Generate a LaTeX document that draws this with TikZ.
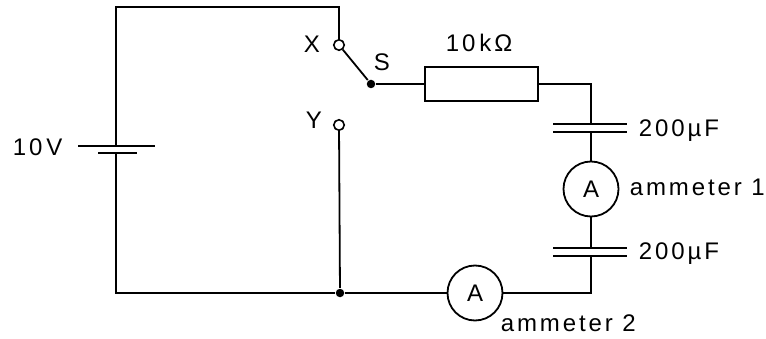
\documentclass[tikz,border=0pt]{standalone}
\usepackage{fontspec}
\setmainfont[LetterSpace=12]{Liberation Sans}
\begin{document}
\begin{tikzpicture}[x=1pt,y=-1pt, line width=1.8pt,
  lbl/.style={font=\fontsize{24}{28}\selectfont, inner sep=0pt, anchor=base west},
  term/.style={circle, draw, minimum size=10.5pt, inner sep=0pt, line width=1.6pt, fill=white},
  meter/.style={circle, draw, minimum size=55pt, inner sep=0pt, font=\fontsize{24}{28}\selectfont},
  dot/.style={circle, fill, minimum size=8.5pt, inner sep=0pt},
  resistor/.style={draw, rectangle, minimum width=113pt, minimum height=34pt, inner sep=0pt}]
\useasboundingbox (0,0) rectangle (766,339);
% components
\node[term] (X) at (339,45) {};
\node[term] (Y) at (339,125) {};
\node[dot] (S) at (371,84) {};
\node[resistor] (R) at (481.5,84) {};
\node[meter] (A1) at (591,189) {A};
\node[meter] (A2) at (475,293) {A};
\node[dot] (J) at (340,293) {};
\coordinate (TL) at (116,7);
\coordinate (TR) at (339,7);
\coordinate (BL) at (116,293);
\coordinate (RC) at (591,84);
\coordinate (BR) at (591,293);
\coordinate (Bp) at (116,146);
\coordinate (Bn) at (116,153);
\coordinate (C1a) at (591,124);
\coordinate (C1b) at (591,132);
\coordinate (C2a) at (591,248);
\coordinate (C2b) at (591,256);
% wires
\draw (Bp) -- (TL) -- (TR) -- (X);
\draw (X) -- (S);
\draw (S) -- (R.west);
\draw (R.east) -- (RC) -- (C1a);
\draw (C1b) -- (A1);
\draw (A1) -- (C2a);
\draw (C2b) -- (BR) -- (A2);
\draw (A2) -- (J) -- (BL) -- (Bn);
\draw (Y) -- (J);
% plates
\draw ([xshift=-38pt]C1a) -- ([xshift=36pt]C1a);
\draw ([xshift=-38pt]C1b) -- ([xshift=36pt]C1b);
\draw ([xshift=-38pt]C2a) -- ([xshift=36pt]C2a);
\draw ([xshift=-38pt]C2b) -- ([xshift=36pt]C2b);
\draw ([xshift=-38pt]Bp) -- ([xshift=39pt]Bp);
\draw ([xshift=-18pt]Bn) -- ([xshift=21pt]Bn);
% labels
\node[lbl] (lv) at (12,156) {10\,V};
\node[lbl] (lr) at (445,52) {10\,kΩ};
\node[lbl] (lc1) at (638,137) {200µF};
\node[lbl] (lc2) at (638,260) {200µF};
\node[lbl] (la1) at (629,196) {ammeter 1};
\node[lbl] (la2) at (500,331) {ammeter 2};
\node[lbl] (lx) at (303,53) {X};
\node[lbl] (ly) at (305,129) {Y};
\node[lbl] (ls) at (373,71) {S};
\end{tikzpicture}
\end{document}
